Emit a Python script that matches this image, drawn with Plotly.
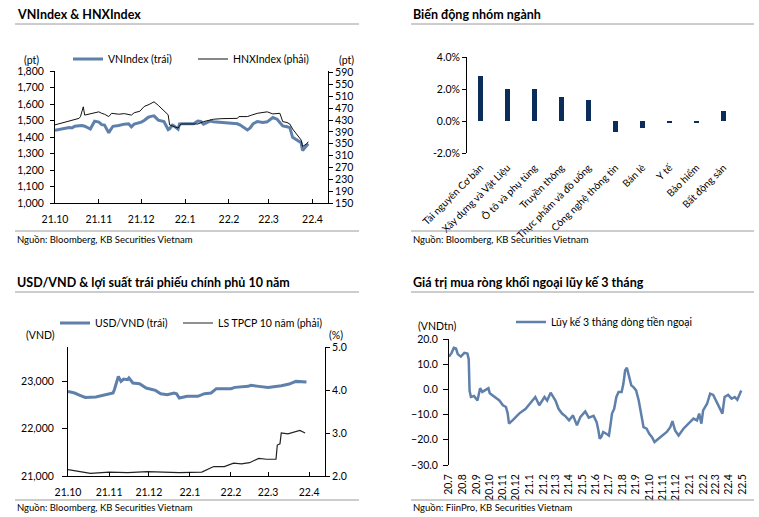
import plotly.graph_objects as go

# ---------------- Panel 1: VNIndex & HNXIndex ----------------
vn_dates = ["2021-10-01","2021-10-04","2021-10-06","2021-10-08","2021-10-11","2021-10-13","2021-10-15",
            "2021-10-18","2021-10-20","2021-10-22","2021-10-25","2021-10-26","2021-10-28","2021-10-29",
            "2021-11-01","2021-11-03","2021-11-05","2021-11-08","2021-11-09","2021-11-11","2021-11-15",
            "2021-11-17","2021-11-19","2021-11-22","2021-11-24","2021-11-26","2021-11-29","2021-12-01",
            "2021-12-03","2021-12-06","2021-12-08","2021-12-10","2021-12-13","2021-12-15","2021-12-17",
            "2021-12-20","2021-12-21","2021-12-23","2021-12-24","2021-12-27","2021-12-28","2021-12-30",
            "2022-01-04","2022-01-07","2022-01-10","2022-01-12","2022-01-14","2022-01-17","2022-01-19",
            "2022-01-21","2022-01-25","2022-01-28","2022-02-03","2022-02-07","2022-02-09","2022-02-11",
            "2022-02-14","2022-02-16","2022-02-18","2022-02-21","2022-02-23","2022-02-25","2022-02-28",
            "2022-03-02","2022-03-04","2022-03-07","2022-03-09","2022-03-11","2022-03-14","2022-03-16",
            "2022-03-18","2022-03-21","2022-03-22","2022-03-23","2022-03-24","2022-03-25","2022-03-28",
            "2022-03-29"]
vn_values = [1440,1445,1450,1455,1458,1455,1465,
             1468,1470,1465,1450,1448,1480,1496,
             1490,1475,1472,1425,1440,1465,1470,
             1475,1478,1480,1462,1478,1485,1490,
             1500,1520,1525,1528,1502,1498,1494,
             1445,1450,1472,1468,1448,1479,1480,
             1479,1480,1497,1495,1478,1490,1497,
             1493,1490,1488,1485,1480,1472,1460,
             1443,1455,1480,1494,1490,1488,1492,
             1505,1518,1508,1490,1467,1462,1457,
             1398,1380,1373,1367,1365,1318,1345,
             1359]

hnx_dates = ["2021-10-01","2021-10-04","2021-10-06","2021-10-08","2021-10-11","2021-10-13","2021-10-15",
             "2021-10-18","2021-10-19","2021-10-21","2021-10-22","2021-10-25","2021-10-28","2021-11-01",
             "2021-11-03","2021-11-05","2021-11-08","2021-11-10","2021-11-15","2021-11-19","2021-11-24",
             "2021-11-26","2021-11-30","2021-12-03","2021-12-07","2021-12-10","2021-12-13","2021-12-15",
             "2021-12-17","2021-12-20","2021-12-21","2021-12-24","2021-12-27","2021-12-29","2022-01-04",
             "2022-01-10","2022-01-14","2022-01-21","2022-01-27","2022-02-07","2022-02-08","2022-02-14",
             "2022-02-17","2022-02-21","2022-02-28","2022-03-02","2022-03-04","2022-03-09","2022-03-11",
             "2022-03-14","2022-03-16","2022-03-18","2022-03-22","2022-03-24","2022-03-25","2022-03-28",
             "2022-03-29"]
hnx_values = [414,418,421,425,428,430,432,
              436,442,475,447,450,455,458,
              453,450,442,453,450,452,447,
              455,460,476,484,492,480,471,
              462,448,414,408,403,417,417,
              417,425,433,435,436,442,442,
              447,453,458,455,451,453,425,
              422,417,400,374,363,341,350,
              357]

# ---------------- Panel 2: sector performance ----------------
sectors = ["Tài nguyên Cơ bản","Xây dựng và Vật Liệu","Ô tô và phụ tùng","Truyền thông",
           "Thực phẩm và đồ uống","Công nghệ thông tin","Bán lẻ","Y tế","Bảo hiểm","Bất động sản"]
sector_change = [2.8, 2.02, 2.0, 1.52, 1.3, -0.67, -0.42, -0.1, -0.1, 0.62]

# ---------------- Panel 3: USD/VND & 10Y bond yield ----------------
fx_dates = ["2021-10-01","2021-10-06","2021-10-10","2021-10-14","2021-10-22","2021-10-29","2021-11-04",
            "2021-11-05","2021-11-08","2021-11-10","2021-11-12","2021-11-15","2021-11-16","2021-11-19",
            "2021-11-24","2021-11-29","2021-12-02","2021-12-06","2021-12-10","2021-12-15","2021-12-20",
            "2021-12-22","2021-12-24","2021-12-30","2022-01-07","2022-01-12","2022-01-17","2022-01-21",
            "2022-02-01","2022-02-04","2022-02-14","2022-02-16","2022-02-22","2022-03-01","2022-03-11",
            "2022-03-17","2022-03-22","2022-03-30"]
fx_values = [22780,22747,22700,22655,22663,22712,22747,
             22817,23097,22992,23042,23027,23063,22958,
             22943,22853,22830,22802,22733,22712,22747,
             22730,22642,22677,22677,22733,22747,22838,
             22838,22866,22887,22908,22887,22866,22901,
             22936,22992,22978]

yld_dates = ["2021-10-01","2021-10-08","2021-10-18","2021-11-01","2021-11-15","2021-11-30","2021-12-15",
             "2021-12-24","2022-01-10","2022-01-14","2022-01-19","2022-01-27","2022-02-03","2022-02-09",
             "2022-02-15","2022-02-22","2022-02-28","2022-03-07","2022-03-08","2022-03-10","2022-03-11",
             "2022-03-16","2022-03-23","2022-03-25","2022-03-29"]
yld_values = [2.15,2.12,2.06,2.09,2.08,2.10,2.09,
              2.08,2.09,2.14,2.22,2.22,2.30,2.28,
              2.31,2.41,2.39,2.39,2.72,2.75,3.00,
              2.98,3.03,3.06,3.00]

# ---------------- Panel 4: foreign net buying, 3M cumulative ----------------
ff_dates = ["2020-07-01","2020-07-07","2020-07-12","2020-07-17","2020-07-21","2020-07-28","2020-08-05",
            "2020-08-12","2020-08-15","2020-08-17","2020-08-20","2020-08-27","2020-09-04","2020-09-10",
            "2020-09-15","2020-09-23","2020-09-29","2020-10-02","2020-10-12","2020-10-24","2020-11-01",
            "2020-11-08","2020-11-12","2020-11-15","2020-11-27","2020-12-08","2020-12-23","2021-01-08",
            "2021-01-14","2021-01-23","2021-02-04","2021-02-10","2021-02-18","2021-03-01","2021-03-08",
            "2021-03-16","2021-03-24","2021-04-01","2021-04-10","2021-04-19","2021-04-27","2021-05-08",
            "2021-05-16","2021-05-27","2021-06-03","2021-06-07","2021-06-10","2021-06-14","2021-06-18",
            "2021-06-25","2021-07-01","2021-07-05","2021-07-08","2021-07-13","2021-07-18","2021-07-23",
            "2021-07-30","2021-08-03","2021-08-07","2021-08-11","2021-08-16","2021-08-21","2021-08-26",
            "2021-09-01","2021-09-07","2021-09-13","2021-09-18","2021-09-25","2021-10-01","2021-10-07",
            "2021-10-13","2021-10-22","2021-10-30","2021-11-10","2021-11-18","2021-11-23","2021-11-29",
            "2021-12-07","2021-12-18","2021-12-30","2022-01-10","2022-01-18","2022-01-23","2022-01-28",
            "2022-02-01","2022-02-10","2022-02-17","2022-02-24","2022-03-03","2022-03-11","2022-03-17",
            "2022-03-22","2022-03-30","2022-04-07","2022-04-14","2022-04-20","2022-04-25","2022-04-29"]
ff_values = [13.0,14.5,16.5,16.2,14.0,13.0,14.5,
             14.2,12.0,-0.5,-3.0,-2.6,-4.4,0.5,
             -1.0,0.0,0.5,-1.5,-2.8,-4.4,-6.3,
             -7.0,-9.6,-13.6,-11.6,-9.6,-7.7,-4.4,
             -3.0,-6.3,-3.0,-4.4,-1.3,-4.4,-7.7,
             -9.6,-10.7,-12.3,-10.3,-14.2,-10.9,-8.7,
             -11.2,-10.5,-13.0,-16.3,-19.6,-18.7,-16.9,
             -17.6,-18.3,-13.6,-9.6,-7.7,-3.0,-1.0,
             -1.0,2.2,7.5,8.6,5.6,1.6,0.9,
             -0.4,-4.4,-9.6,-15.0,-15.6,-17.6,-18.9,
             -20.9,-19.6,-18.3,-16.9,-15.0,-12.6,-16.3,
             -18.3,-15.6,-13.6,-11.6,-12.3,-9.6,-13.6,
             -8.3,-5.7,-1.7,-2.2,-4.9,-7.7,-9.6,
             -3.0,-2.2,-3.7,-3.0,-4.1,-1.7,-0.4]

# ---------------- Tick labels ----------------
m6_tickvals = ["2021-10-01","2021-11-01","2021-12-01","2022-01-01","2022-02-01","2022-03-01","2022-04-01"]
m6_ticktext = ["21.10","21.11","21.12","22.1","22.2","22.3","22.4"]
ff_tickvals = ["2020-07-01","2020-08-01","2020-09-01","2020-10-01","2020-11-01","2020-12-01",
               "2021-01-01","2021-02-01","2021-03-01","2021-04-01","2021-05-01","2021-06-01",
               "2021-07-01","2021-08-01","2021-09-01","2021-10-01","2021-11-01","2021-12-01",
               "2022-01-01","2022-02-01","2022-03-01","2022-04-01","2022-05-01"]
ff_ticktext = ["20.7","20.8","20.9","20.10","20.11","20.12","21.1","21.2","21.3","21.4","21.5","21.6",
               "21.7","21.8","21.9","21.10","21.11","21.12","22.1","22.2","22.3","22.4","22.5"]

W, H = 759, 517
def px(x):
    return x / W
def py(y):
    return 1 - y / H

BLUE = "#5f80ab"
NAVY = "#0a2d5a"
FONT = "Lato"
AX = "#000000"

fig = go.Figure()

fig.add_trace(go.Scatter(x=vn_dates, y=vn_values, mode="lines", name="VNIndex (trái)",
                         line=dict(color=BLUE, width=3), xaxis="x", yaxis="y", legend="legend"))
fig.add_trace(go.Scatter(x=hnx_dates, y=hnx_values, mode="lines", name="HNXIndex (phải)",
                         line=dict(color="#111111", width=1), xaxis="x", yaxis="y2", legend="legend2"))
fig.add_trace(go.Bar(x=sectors, y=sector_change, marker=dict(color=NAVY, line=dict(width=0)),
                     width=0.22, showlegend=False, xaxis="x2", yaxis="y3"))
fig.add_trace(go.Scatter(x=fx_dates, y=fx_values, mode="lines", name="USD/VND (trái)",
                         line=dict(color=BLUE, width=3), xaxis="x4", yaxis="y4", legend="legend3"))
fig.add_trace(go.Scatter(x=yld_dates, y=yld_values, mode="lines", name="LS TPCP 10 năm (phải)",
                         line=dict(color="#222222", width=1.2), xaxis="x4", yaxis="y5", legend="legend4"))
fig.add_trace(go.Scatter(x=ff_dates, y=ff_values, mode="lines", name="Lũy kế 3 tháng dòng tiền ngoại",
                         line=dict(color=BLUE, width=2.5), xaxis="x5", yaxis="y6", legend="legend5"))

tickfont = dict(family=FONT, size=10.5, color="#000")

def legend_at(x, y):
    return dict(x=px(x), y=py(y), xanchor="left", yanchor="middle", orientation="h",
                bgcolor="rgba(0,0,0,0)", font=dict(family=FONT, size=10.5, color="#000"),
                itemwidth=30, tracegroupgap=0)

common = dict(automargin=False, showgrid=False, zeroline=False)

fig.update_layout(
    width=W, height=H, margin=dict(l=0, r=0, t=0, b=0, autoexpand=False),
    paper_bgcolor="white", plot_bgcolor="rgba(0,0,0,0)",
    font=dict(family=FONT, size=10.5, color="#000"),
    bargap=0,
    legend=legend_at(68, 59), legend2=legend_at(193, 59),
    legend3=legend_at(55, 323), legend4=legend_at(178, 323),
    legend5=legend_at(511, 322),
    # Panel 1
    xaxis=dict(domain=[px(55), px(328)], anchor="y", type="date",
               range=["2021-10-01", "2022-04-12"], tickvals=m6_tickvals, ticktext=m6_ticktext,
               showline=True, linecolor=AX, ticks="inside", ticklen=4, tickcolor=AX,
               tickfont=tickfont, ticklabelstandoff=6, **common),
    yaxis=dict(domain=[py(203), py(71)], anchor="x", range=[1000, 1800], dtick=100,
               tickformat=",", showline=True, linecolor=AX, ticks="outside", ticklen=4, tickcolor=AX,
               tickfont=tickfont, ticklabelstandoff=4, **common),
    yaxis2=dict(overlaying="y", side="right", anchor="x", range=[150, 596],
                tickvals=[150,190,230,270,310,350,390,430,470,510,550,590],
                showline=True, linecolor=AX, ticks="outside", ticklen=4, tickcolor=AX,
                tickfont=tickfont, **common),
    # Panel 2
    xaxis2=dict(domain=[px(467), px(737)], anchor="y3", type="category", range=[-0.5, 9.5],
                showline=False, ticks="",
                tickangle=-45, tickfont=dict(family=FONT, size=10, color="#000"), ticklabelstandoff=6,
                **common),
    xaxis3=dict(overlaying="x2", anchor="free", position=py(121), range=[-0.5, 9.5],
                tickvals=[-0.5,0.5,1.5,2.5,3.5,4.5,5.5,6.5,7.5,8.5,9.5], showticklabels=False,
                showline=True, linecolor=AX, ticks="inside", ticklen=4, tickcolor=AX, **common),
    yaxis3=dict(domain=[py(153), py(57)], anchor="x2", range=[-2, 4],
                tickvals=[-2, 0, 2, 4], ticktext=[f"{v:.1f}%" for v in [-2, 0, 2, 4]],
                showline=True, linecolor=AX, ticks="outside", ticklen=4, tickcolor=AX,
                tickfont=tickfont, **common),
    # Panel 3
    xaxis4=dict(domain=[px(68), px(325)], anchor="y4", type="date",
                range=["2021-10-01", "2022-04-13"], tickvals=m6_tickvals, ticktext=m6_ticktext,
                showline=True, linecolor=AX, ticks="inside", ticklen=4, tickcolor=AX,
                tickfont=tickfont, ticklabelstandoff=6, **common),
    yaxis4=dict(domain=[py(476), py(347)], anchor="x4", range=[21000, 23716],
                tickvals=[21000, 22000, 23000], tickformat=",",
                showline=True, linecolor=AX, ticks="outside", ticklen=5, tickcolor=AX,
                tickfont=tickfont, ticklabelstandoff=6, **common),
    yaxis5=dict(overlaying="y4", side="right", anchor="x4", range=[2, 5], dtick=1, tickformat=".1f",
                showline=True, linecolor=AX, ticks="outside", ticklen=4, tickcolor=AX,
                tickfont=tickfont, **common),
    # Panel 4
    xaxis5=dict(domain=[px(449), px(743)], anchor="y6", type="date",
                range=["2020-07-01", "2022-05-03"], tickvals=ff_tickvals, ticktext=ff_ticktext,
                showline=False, ticks="", tickangle=-90,
                tickfont=tickfont, ticklabelstandoff=6, **common),
    xaxis6=dict(overlaying="x5", anchor="free", position=py(389), type="date",
                range=["2020-07-01", "2022-05-03"], tickvals=ff_tickvals, showticklabels=False,
                showline=True, linecolor=AX, ticks="inside", ticklen=4, tickcolor=AX, **common),
    yaxis6=dict(domain=[py(465), py(339)], anchor="x5", range=[-30, 20], dtick=10, tickformat=".1f",
                showline=True, linecolor=AX, ticks="outside", ticklen=5, tickcolor=AX,
                tickfont=tickfont, ticklabelstandoff=3, **common),
)

# Titles, separators, sources, unit labels
GRAY = "#9a9a9a"
titles = [("VNIndex &amp; HNXIndex", 15, 14), ("Biến động nhóm ngành", 411, 14),
          ("USD/VND &amp; lợi suất trái phiếu chính phủ 10 năm", 15, 282),
          ("Giá trị mua ròng khối ngoại lũy kế 3 tháng", 411, 282)]
for t, x, y in titles:
    fig.add_annotation(text=f"<b>{t}</b>", x=px(x), y=py(y), xref="paper", yref="paper",
                       xanchor="left", yanchor="middle", showarrow=False,
                       font=dict(family=FONT, size=12.5, color="#000"))
sources = [("Nguồn: Bloomberg, KB Securities Vietnam", 15, 239),
           ("Nguồn: Bloomberg, KB Securities Vietnam", 411, 239),
           ("Nguồn: Bloomberg, KB Securities Vietnam", 15, 508),
           ("Nguồn: FiinPro, KB Securities Vietnam", 411, 508)]
for t, x, y in sources:
    fig.add_annotation(text=t, x=px(x), y=py(y), xref="paper", yref="paper",
                       xanchor="left", yanchor="middle", showarrow=False,
                       font=dict(family=FONT, size=9.5, color="#000"))
for (x0, x1) in [(15, 359), (411, 754)]:
    for y in [24, 231, 292, 500]:
        fig.add_shape(type="line", xref="paper", yref="paper", x0=px(x0), x1=px(x1), y0=py(y), y1=py(y),
                      line=dict(color=GRAY, width=1))
units = [("(pt)", 31, 60), ("(pt)", 346, 60), ("(VND)", 40, 335), ("(%)", 336, 335), ("(VNDtn)", 437, 326)]
for t, x, y in units:
    fig.add_annotation(text=t, x=px(x), y=py(y), xref="paper", yref="paper",
                       xanchor="center", yanchor="middle", showarrow=False,
                       font=dict(family=FONT, size=10.5, color="#000"))

fig.write_html("out.html", config={"displayModeBar": False},
               post_script="document.body.style.margin='0';document.body.style.padding='0';")
